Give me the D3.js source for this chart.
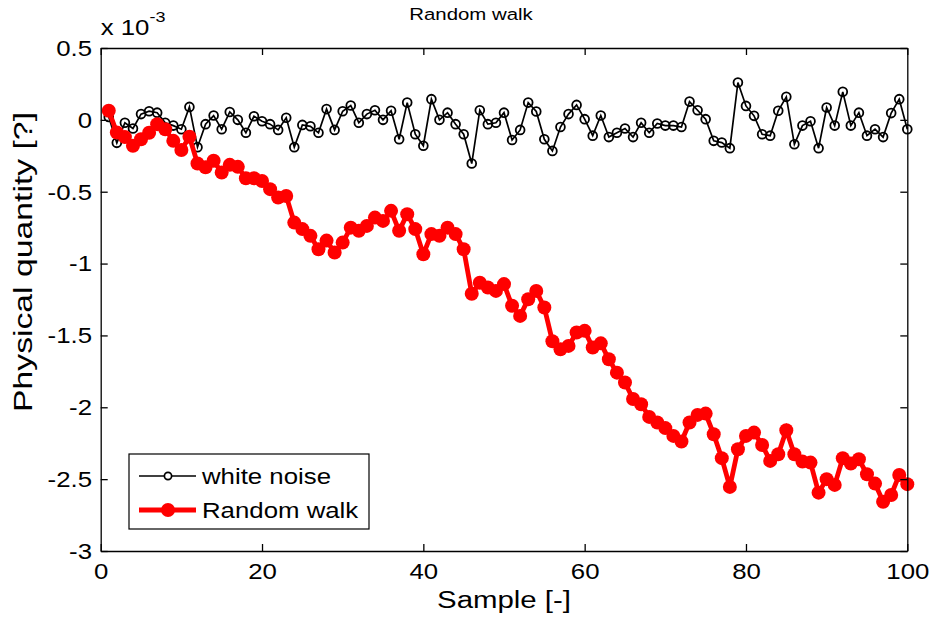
<!DOCTYPE html>
<html>
<head>
<meta charset="utf-8">
<script src="https://cdn.jsdelivr.net/npm/d3@7"></script>
<style>
    body { margin: 0; background: #fff; }
    svg text { font-family: "Liberation Sans", Arial, sans-serif; fill: #000; }
    .axis path, .axis line { stroke: #000; stroke-width: 1.3; }
</style>
</head>
<body>
<svg id="chart" width="937" height="621"></svg>
<script>
// values are in units of 1e-3 (the axis multiplier)
var samples = d3.range(1, 101);

var whiteNoise = [
     0.02, -0.16, -0.02, -0.06,  0.04,  0.06,  0.05, -0.02, -0.04, -0.065,
     0.09, -0.19, -0.03,  0.03, -0.065, 0.055, 0.0,  -0.09,  0.025, -0.01,
    -0.03, -0.07,  0.015, -0.19, -0.035, -0.045, -0.09, 0.075, -0.07, 0.06,
     0.1,  -0.02,  0.04,  0.067, 0.0,   0.063, -0.135, 0.12, -0.1,  -0.18,
     0.144, 0.0,   0.05, -0.03, -0.1,  -0.304, 0.067, -0.03, -0.02,  0.05,
    -0.14, -0.07,  0.12,  0.058, -0.135, -0.216, -0.05, 0.04, 0.104, 0.005,
    -0.11,  0.03, -0.12, -0.09, -0.06, -0.12, -0.02, -0.09, -0.025, -0.04,
    -0.04, -0.05,  0.127, 0.067, 0.005, -0.146, -0.158, -0.197, 0.26, 0.097,
     0.028, -0.1, -0.11,  0.063, 0.16, -0.17, -0.04, -0.01, -0.197, 0.086,
    -0.04,  0.195, -0.04, 0.05, -0.11, -0.065, -0.12, 0.047, 0.144, -0.065
];

var randomWalk = [
     0.063, -0.088, -0.12, -0.18, -0.135, -0.09, -0.03, -0.065, -0.146, -0.21,
    -0.118, -0.304, -0.33, -0.285, -0.367, -0.313, -0.327, -0.406, -0.406, -0.425,
    -0.482, -0.54, -0.53, -0.715, -0.76, -0.807, -0.9, -0.84, -0.923, -0.854,
    -0.75, -0.772, -0.738, -0.68, -0.703, -0.633, -0.772, -0.656, -0.76, -0.935,
    -0.795, -0.807, -0.75, -0.795, -0.9, -1.21, -1.133, -1.167, -1.19, -1.143,
    -1.294, -1.364, -1.248, -1.19, -1.306, -1.54, -1.596, -1.573, -1.48, -1.468,
    -1.584, -1.555, -1.666, -1.759, -1.828, -1.942, -1.979, -2.067, -2.106, -2.145,
    -2.199, -2.238, -2.106, -2.053, -2.044, -2.188, -2.354, -2.554, -2.292, -2.199,
    -2.176, -2.262, -2.373, -2.327, -2.16, -2.327, -2.378, -2.385, -2.594, -2.5,
    -2.54, -2.354, -2.392, -2.362, -2.466, -2.531, -2.657, -2.61, -2.471, -2.535
];

var xTicks = [0, 20, 40, 60, 80, 100]
    , yTicks = [0.5, 0, -0.5, -1, -1.5, -2, -2.5, -3]
    , seriesNames = ["white noise", "Random walk"]
    ;

var svg = d3.select("#chart")
    , margin = {top: 48, right: 29.7, bottom: 70, left: 100.7}
    , width = +svg.attr("width") - margin.left - margin.right
    , height = +svg.attr("height") - margin.top - margin.bottom
    , g = svg.append("g").attr("transform", "translate(" + margin.left + "," + margin.top + ")")
    , fontSize = 21.5
    , sx = 1.2   // the picture is a bit wider than tall, text looks stretched
    ;

var x = d3.scaleLinear().domain([0, 100]).range([0, width]);
var y = d3.scaleLinear().domain([-3, 0.5]).range([height, 0]);

var line = d3.line()
    .x(function(d) { return x(d[0]); })
    .y(function(d) { return y(d[1]); });

var noisePts = samples.map(function(s, i) { return [s, whiteNoise[i]]; });
var walkPts = samples.map(function(s, i) { return [s, randomWalk[i]]; });

// stretched text helper: put text at (px,py) in its parent, widened by sx
function wide(sel, px, py) {
    return sel.attr("transform", "translate(" + px + "," + py + ") scale(" + sx + ",1)");
}

// white noise: thin black line, open circles
g.append("path")
    .attr("d", line(noisePts))
    .attr("fill", "none")
    .attr("stroke", "#000")
    .attr("stroke-width", 1.7);

g.selectAll("circle.noise")
    .data(noisePts)
    .enter().append("circle")
    .attr("class", "noise")
    .attr("cx", function(d) { return x(d[0]); })
    .attr("cy", function(d) { return y(d[1]); })
    .attr("r", 4.4)
    .attr("fill", "none")
    .attr("stroke", "#000")
    .attr("stroke-width", 1.8);

// random walk: thick red line, filled circles
g.append("path")
    .attr("d", line(walkPts))
    .attr("fill", "none")
    .attr("stroke", "#f00")
    .attr("stroke-width", 4.8);

g.selectAll("circle.walk")
    .data(walkPts)
    .enter().append("circle")
    .attr("class", "walk")
    .attr("cx", function(d) { return x(d[0]); })
    .attr("cy", function(d) { return y(d[1]); })
    .attr("r", 7)
    .attr("fill", "#f00");

// axes, ticks pointing inwards like matlab
var fmt = function(v) { return String(v); };

g.append("g")
    .attr("class", "axis axis--x")
    .attr("transform", "translate(0," + height + ")")
    .call(d3.axisBottom(x).tickValues(xTicks).tickSizeInner(-7).tickSizeOuter(0).tickFormat(fmt));

g.append("g")
    .attr("class", "axis")
    .call(d3.axisTop(x).tickValues(xTicks).tickSizeInner(-7).tickSizeOuter(0).tickFormat(""));

g.append("g")
    .attr("class", "axis axis--y")
    .call(d3.axisLeft(y).tickValues(yTicks).tickSizeInner(-7).tickSizeOuter(0).tickFormat(fmt));

g.append("g")
    .attr("class", "axis")
    .attr("transform", "translate(" + width + ",0)")
    .call(d3.axisRight(y).tickValues(yTicks).tickSizeInner(-7).tickSizeOuter(0).tickFormat(""));

g.selectAll(".axis text")
    .style("font-size", fontSize + "px")
    .attr("fill", "#000")
    .attr("x", null)
    .attr("y", null);

wide(g.selectAll(".axis--x text"), 0, 13).attr("dy", "0.71em");
wide(g.selectAll(".axis--y text"), -8.7, 0).attr("dy", "0.34em");

// exponent label
var expo = wide(g.append("text"), 0, -13)
    .style("font-size", fontSize + "px");
expo.append("tspan").text("x 10");
expo.append("tspan")
    .attr("dy", -13)
    .style("font-size", "15px")
    .text("-3");

// title and axis labels
wide(svg.append("text"), 471, 20)
    .attr("text-anchor", "middle")
    .style("font-size", "17px")
    .text("Random walk");

wide(svg.append("text"), 504, 608)
    .attr("text-anchor", "middle")
    .style("font-size", "24.5px")
    .text("Sample [-]");

svg.append("text")
    .attr("transform", "translate(32,262) scale(" + sx + ",1) rotate(-90)")
    .attr("text-anchor", "middle")
    .attr("textLength", 300)
    .attr("lengthAdjust", "spacingAndGlyphs")
    .style("font-size", "22px")
    .text("Physical quantity [?]");

// legend
var legend = svg.append("g").attr("transform", "translate(129,454)");

legend.append("rect")
    .attr("width", 240)
    .attr("height", 75)
    .attr("fill", "#fff")
    .attr("stroke", "#000")
    .attr("stroke-width", 1.2);

var legRow = legend.selectAll("g.row")
    .data(seriesNames)
    .enter().append("g")
    .attr("class", "row")
    .attr("transform", function(d, i) { return "translate(0," + (22 + i * 34) + ")"; });

legRow.append("line")
    .attr("x1", 10).attr("x2", 67)
    .attr("stroke", function(d, i) { return i ? "#f00" : "#000"; })
    .attr("stroke-width", function(d, i) { return i ? 5 : 1.7; });

legRow.append("circle")
    .attr("cx", 39)
    .attr("r", function(d, i) { return i ? 7 : 3.6; })
    .attr("fill", function(d, i) { return i ? "#f00" : "#fff"; })
    .attr("stroke", function(d, i) { return i ? "none" : "#000"; })
    .attr("stroke-width", 1.7);

wide(legRow.append("text"), 73, 0)
    .attr("dy", "0.35em")
    .style("font-size", fontSize + "px")
    .text(function(d) { return d; });
</script>
</body>
</html>
